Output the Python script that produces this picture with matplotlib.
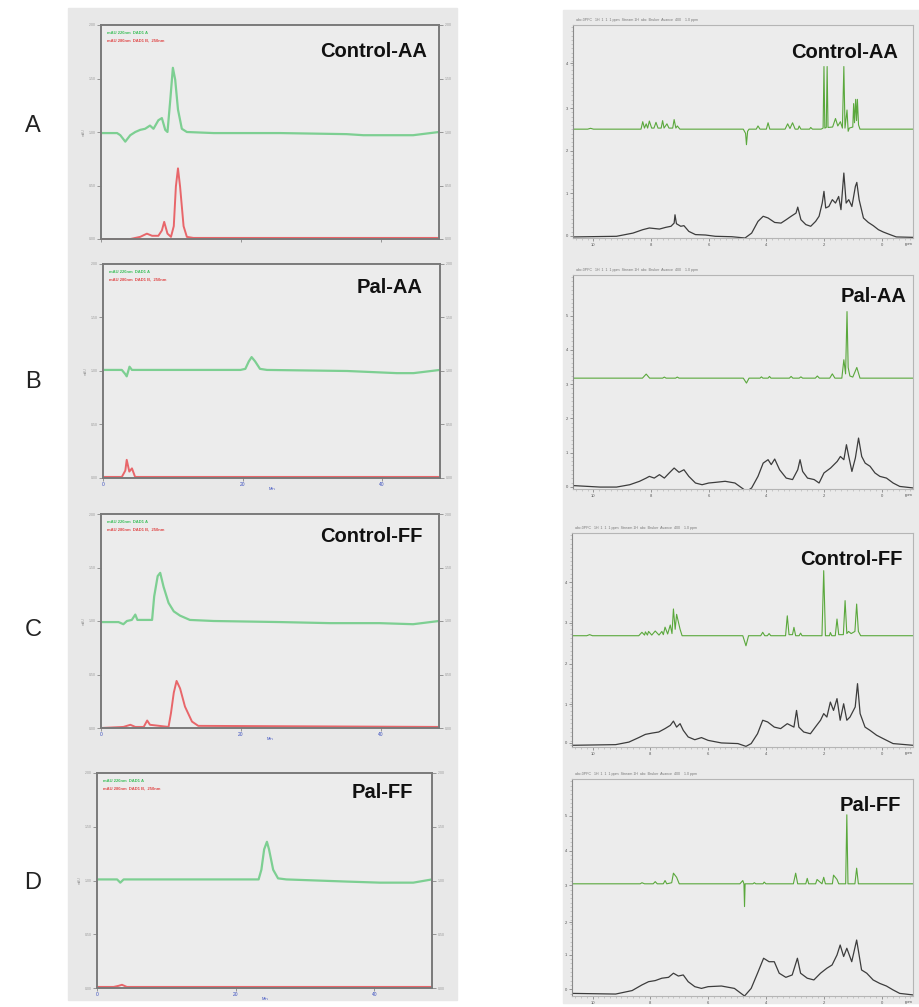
import matplotlib
matplotlib.use("Agg")
import matplotlib.pyplot as plt
from matplotlib.patches import Rectangle

plt.rcParams['font.family'] = ['Liberation Sans', 'DejaVu Sans']

# ---- left column: chromatograms (time in min, detector signal) ----
row_letters = ['A', 'B', 'C', 'D']
sample_names = ['Control-AA', 'Pal-AA', 'Control-FF', 'Pal-FF']

lc_green_t = [
    [0, 2.3, 2.76, 3.47, 4.18, 4.9, 5.6, 6.3, 7.0, 7.5, 8.2, 8.7, 9.18, 9.5, 9.9, 10.27, 10.6, 11.0, 11.55, 12.27, 16.1, 25.6, 35.1, 37.5, 42.2, 44.6, 48.3],
    [0, 2.7, 3.2, 3.4, 3.8, 4.15, 19.7, 20.4, 20.9, 21.3, 21.8, 22.5, 23.5, 35, 42.1, 44.5, 48.3],
    [0, 2.5, 3.2, 3.7, 4.4, 4.9, 5.2, 7.3, 7.6, 8.1, 8.46, 8.94, 9.65, 10.4, 11.3, 12.7, 16.1, 25.6, 32.7, 39.8, 44.6, 48.3],
    [0, 2.9, 3.36, 3.84, 23.3, 23.7, 24.1, 24.5, 24.8, 25.4, 26.1, 27.3, 36, 40.8, 45.6, 48.3],
]
lc_green_v = [
    [0.99, 0.99, 0.97, 0.91, 0.97, 1.0, 1.02, 1.03, 1.06, 1.03, 1.11, 1.13, 1.02, 1.0, 1.30, 1.60, 1.49, 1.21, 1.03, 1.0, 0.99, 0.99, 0.98, 0.97, 0.97, 0.97, 1.0],
    [1.01, 1.01, 0.97, 0.95, 1.04, 1.01, 1.01, 1.02, 1.09, 1.13, 1.09, 1.02, 1.01, 1.0, 0.98, 0.98, 1.01],
    [0.99, 0.99, 0.97, 1.0, 1.01, 1.06, 1.01, 1.01, 1.23, 1.42, 1.45, 1.32, 1.17, 1.09, 1.05, 1.01, 1.0, 0.99, 0.98, 0.98, 0.97, 1.0],
    [1.01, 1.01, 0.98, 1.01, 1.01, 1.1, 1.29, 1.36, 1.29, 1.1, 1.02, 1.01, 0.99, 0.98, 0.98, 1.01],
]
lc_red_t = [
    [0, 4.2, 5.6, 6.56, 7.3, 8.2, 8.7, 9.03, 9.5, 10.0, 10.4, 10.7, 11.0, 11.3, 11.8, 12.27, 13.2, 48.3],
    [0, 2.7, 3.2, 3.4, 3.77, 4.15, 4.6, 48.3],
    [0, 3.2, 4.2, 4.9, 6.1, 6.6, 7.0, 9.65, 10.0, 10.4, 10.8, 11.3, 12.0, 13.0, 13.9, 48.3],
    [0, 2.4, 3.1, 3.6, 4.3, 48.3],
]
lc_red_v = [
    [0.0, 0.0, 0.02, 0.05, 0.03, 0.03, 0.08, 0.16, 0.05, 0.02, 0.12, 0.49, 0.66, 0.49, 0.12, 0.02, 0.01, 0.01],
    [0.01, 0.01, 0.07, 0.17, 0.06, 0.09, 0.01, 0.01],
    [0.0, 0.01, 0.03, 0.01, 0.01, 0.07, 0.03, 0.01, 0.14, 0.33, 0.44, 0.37, 0.2, 0.06, 0.02, 0.01],
    [0.01, 0.01, 0.02, 0.03, 0.01, 0.01],
]
lc_yticks = [0, 0.5, 1.0, 1.5, 2.0]
lc_xticks = [0, 20, 40]

# ---- right column: 1H spectra (ppm, % of panel height) ----
nmr_black_ppm = [
    [10.71, 9.2, 8.63, 8.29, 8.06, 7.71, 7.49, 7.31, 7.2, 7.17, 7.12, 6.97, 6.86, 6.69, 6.46, 6.11, 5.77, 5.2, 4.74, 4.51, 4.29, 4.11, 3.94, 3.71, 3.49, 3.31, 3.14, 2.97, 2.91, 2.8, 2.63, 2.46, 2.29, 2.17, 2.06, 2.0, 1.94, 1.83, 1.71, 1.6, 1.49, 1.41, 1.31, 1.23, 1.14, 1.03, 0.91, 0.86, 0.78, 0.63, 0.46, 0.29, 0.11, -0.06, -0.29, -0.51, -1.09],
    [10.71, 9.77, 9.2, 8.74, 8.4, 8.17, 8.06, 7.89, 7.71, 7.54, 7.37, 7.2, 7.03, 6.86, 6.69, 6.46, 6.23, 6.0, 5.77, 5.43, 5.09, 4.8, 4.69, 4.51, 4.29, 4.11, 3.94, 3.83, 3.71, 3.54, 3.31, 3.09, 2.91, 2.83, 2.74, 2.57, 2.34, 2.17, 2.0, 1.77, 1.54, 1.43, 1.31, 1.22, 1.14, 1.03, 0.91, 0.8, 0.69, 0.57, 0.4, 0.23, 0.06, -0.17, -0.4, -0.63, -1.09],
    [10.71, 9.2, 8.74, 8.4, 8.17, 7.94, 7.71, 7.49, 7.31, 7.2, 7.09, 6.97, 6.86, 6.69, 6.46, 6.23, 6.0, 5.54, 4.97, 4.69, 4.51, 4.29, 4.11, 3.94, 3.71, 3.49, 3.26, 3.03, 2.94, 2.86, 2.69, 2.46, 2.29, 2.11, 2.0, 1.89, 1.77, 1.66, 1.54, 1.43, 1.31, 1.2, 1.09, 0.91, 0.83, 0.74, 0.57, 0.4, 0.17, -0.06, -0.4, -1.09],
    [10.71, 9.2, 8.63, 8.29, 8.06, 7.83, 7.6, 7.37, 7.2, 7.03, 6.86, 6.69, 6.46, 6.23, 6.0, 5.54, 5.09, 4.74, 4.51, 4.29, 4.08, 3.89, 3.71, 3.54, 3.31, 3.09, 2.91, 2.8, 2.57, 2.34, 2.11, 1.89, 1.71, 1.54, 1.43, 1.31, 1.2, 1.03, 0.86, 0.69, 0.51, 0.29, 0.06, -0.17, -0.4, -0.63, -1.09],
]
nmr_black_val = [
    [0.5, 0.8, 2.3, 3.9, 4.7, 4.2, 5.0, 5.5, 7.0, 10.9, 6.7, 5.5, 5.8, 3.1, 1.6, 1.4, 0.8, 0.6, 0.0, 2.3, 7.8, 10.2, 9.4, 7.3, 7.0, 8.6, 10.2, 11.7, 14.5, 8.6, 6.3, 5.5, 7.8, 10.2, 16.4, 21.9, 14.1, 14.8, 18.0, 16.4, 19.5, 13.3, 30.5, 16.4, 18.0, 14.8, 24.2, 26.1, 18.0, 9.4, 7.3, 5.8, 3.9, 2.8, 1.6, 0.5, 0.3],
    [1.6, 0.9, 0.9, 2.0, 3.6, 5.1, 5.9, 5.1, 6.7, 5.1, 7.5, 9.8, 7.8, 9.0, 5.9, 2.8, 2.0, 2.8, 3.1, 3.6, 2.8, 0.0, -1.2, 0.5, 5.9, 12.1, 13.7, 11.4, 14.0, 9.0, 5.1, 4.4, 9.0, 13.7, 8.2, 5.1, 4.4, 2.8, 7.5, 9.8, 12.9, 15.2, 13.7, 20.7, 15.2, 8.2, 14.5, 23.8, 15.2, 12.1, 10.6, 7.5, 5.9, 5.1, 2.8, 1.2, 0.5],
    [0.8, 1.1, 2.3, 4.4, 5.9, 6.5, 7.0, 8.6, 10.1, 12.1, 9.3, 10.9, 7.8, 4.7, 3.4, 4.4, 3.1, 1.9, 1.6, 0.3, 1.6, 6.2, 12.5, 11.7, 9.3, 8.6, 10.9, 9.3, 17.1, 9.3, 7.0, 6.2, 9.3, 12.5, 15.6, 14.0, 21.0, 17.1, 22.6, 12.5, 20.2, 12.5, 14.0, 18.7, 29.6, 15.6, 9.3, 7.8, 5.5, 3.9, 1.6, 0.8],
    [1.2, 0.9, 2.5, 5.1, 6.6, 7.1, 8.2, 8.6, 10.5, 9.2, 9.7, 6.6, 4.3, 3.5, 4.3, 4.6, 3.5, 0.0, 3.5, 10.5, 17.4, 15.8, 15.8, 10.5, 8.6, 9.7, 17.4, 10.5, 8.2, 7.4, 10.5, 12.8, 14.3, 18.9, 23.5, 18.2, 22.0, 15.8, 25.8, 12.0, 10.5, 7.4, 5.8, 4.6, 2.8, 1.2, 0.5],
]
nmr_green_ppm = [
    [10.71, 10.2, 10.1, 10.0, 8.35, 8.29, 8.23, 8.17, 8.12, 8.06, 7.98, 7.9, 7.83, 7.76, 7.65, 7.6, 7.55, 7.45, 7.38, 7.25, 7.2, 7.14, 7.09, 7.0, 4.8, 4.72, 4.69, 4.65, 4.6, 4.35, 4.29, 4.22, 4.0, 3.94, 3.88, 3.35, 3.26, 3.18, 3.09, 3.0, 2.9, 2.86, 2.8, 2.5, 2.46, 2.4, 2.1, 2.03, 2.0, 1.97, 1.92, 1.89, 1.86, 1.7, 1.6, 1.52, 1.43, 1.36, 1.31, 1.27, 1.2, 1.16, 1.12, 1.0, 0.97, 0.94, 0.9, 0.87, 0.84, 0.8, 0.75, -1.1],
    [10.71, 8.3, 8.17, 8.05, 7.6, 7.54, 7.48, 7.15, 7.09, 7.03, 4.8, 4.69, 4.6, 4.22, 4.17, 4.12, 3.94, 3.89, 3.84, 3.2, 3.14, 3.08, 2.86, 2.8, 2.74, 2.3, 2.23, 2.16, 1.8, 1.71, 1.62, 1.38, 1.31, 1.25, 1.2, 1.16, 1.1, 1.0, 0.86, 0.75, -1.1],
    [10.71, 10.2, 10.1, 10.0, 8.4, 8.29, 8.2, 8.17, 8.1, 8.06, 7.95, 7.83, 7.7, 7.6, 7.55, 7.49, 7.4, 7.31, 7.25, 7.2, 7.14, 7.09, 6.97, 6.9, 4.8, 4.69, 4.6, 4.18, 4.11, 4.04, 3.95, 3.89, 3.83, 3.32, 3.26, 3.2, 3.08, 3.03, 2.97, 2.85, 2.8, 2.75, 2.06, 2.0, 1.94, 1.8, 1.77, 1.72, 1.6, 1.54, 1.48, 1.32, 1.26, 1.2, 1.14, 1.05, 0.92, 0.86, 0.8, 0.72, -1.1],
    [10.71, 8.35, 8.29, 8.2, 7.9, 7.83, 7.76, 7.55, 7.49, 7.43, 7.26, 7.2, 7.09, 7.0, 4.9, 4.8, 4.76, 4.74, 4.72, 4.65, 4.45, 4.4, 4.35, 4.1, 4.06, 4.0, 3.05, 2.97, 2.9, 2.62, 2.57, 2.52, 2.28, 2.23, 2.06, 2.0, 1.94, 1.7, 1.66, 1.54, 1.48, 1.24, 1.2, 1.16, 0.92, 0.86, 0.8, -1.1],
]
nmr_green_val = [
    [0, 0, 0.4, 0, 0, 3.5, 0.5, 2.5, 0.5, 3.8, 0.5, 0.5, 3.2, 0.5, 0.5, 4.0, 0.5, 2.5, 0.5, 0.5, 4.5, 0.5, 1.5, 0, 0, -2.0, -7.3, -1.0, 0, 0, 1.5, 0, 0, 3.0, 0, 0, 2.5, 0.3, 3.0, 0, 0, 1.5, 0, 0, 0.8, 0, 0, 0.5, 29.4, 0.5, 0.8, 29.4, 0.8, 1.0, 5.0, 1.5, 3.5, 0.5, 29.4, 0.5, 9.0, -1.0, 0.5, 1.0, 12.0, 3.0, 14.0, 4.0, 14.0, 2.0, 0, 0],
    [0, 0, 1.9, 0, 0, 0.5, 0, 0, 0.5, 0, 0, -2.3, 0, 0, 0.6, 0, 0, 0.8, 0, 0, 0.8, 0, 0, 0.6, 0, 0, 1.0, 0, 0, 2.0, 0, 0, 8.6, 2.0, 31.1, 5.0, 1.0, 0.5, 5.0, 0, 0],
    [0, 0, 0.5, 0, 0, 1.6, 0.3, 1.8, 0.3, 2.0, 0.3, 2.2, 0.3, 2.0, 0.5, 4.0, 0.8, 5.0, 1.0, 12.5, 3.0, 10.0, 3.0, 0, 0, -4.7, 0, 0, 1.6, 0, 0, 1.0, 0, 0, 9.3, 0.5, 0.5, 3.9, 0, 0, 1.2, 0, 0, 30.4, 0, 0, 1.5, 0, 0, 7.8, 0.5, 0.5, 16.4, 1.0, 2.0, 1.0, 2.0, 14.8, 2.0, 0, 0],
    [0, 0, 0.5, 0, 0, 1.0, 0, 0, 1.5, 0, 0.5, 4.9, 3.0, 0, 0, 1.5, 0, -10.5, 0, 0, 0, 0.5, 0, 0, 0.8, 0, 0, 4.9, 0, 0, 2.5, 0, 0, 2.0, 0, 3.0, 0, 0, 4.0, 2.0, 0, 0, 31.8, 0, 0, 7.2, 0, 0],
]
nmr_green_base = [51.1, 51.8, 52.0, 51.7]
nmr_yticks = [[1, 21, 41, 61, 82], [1, 17, 33, 49, 65, 81], [2, 20, 39, 58, 77], [3, 19, 34, 51, 67, 83]]
nmr_xticks = [10, 8, 6, 4, 2, 0]

# ---- layout (pixel boxes: left, top, right, bottom) ----
W, H = 919, 1007
lc_boxes = [(101, 25, 439, 239), (103, 264, 440, 478), (101, 514, 439, 728), (97, 773, 432, 988)]
nmr_boxes = [(573, 25, 913, 238), (573, 275, 913, 489), (572, 533, 913, 747), (572, 779, 913, 996)]
letter_y = [126, 382, 630, 883]
lc_label_pos = [(0.965, 0.874), (0.947, 0.89), (0.95, 0.893), (0.943, 0.907)]
nmr_label_pos = [(0.957, 0.873), (0.98, 0.9), (0.97, 0.874), (0.965, 0.88)]

BG = '#ececec'
LC_GREEN = '#7dcf92'
LC_RED = '#e8666a'
NMR_GREEN = '#5aa83c'
NMR_BLACK = '#3c3c3c'


def to_rect(box):
    l, t, r, b = box
    return [l / W, 1 - b / H, (r - l) / W, (b - t) / H]


fig = plt.figure(figsize=(W / 100, H / 100), dpi=100)
fig.patches.append(Rectangle((68 / W, 1 - 1000 / H), (457 - 68) / W, 992 / H,
                             transform=fig.transFigure, color='#e8e8e8', zorder=-5))
fig.patches.append(Rectangle((563 / W, 1 - 1003 / H), (919 - 563) / W, 993 / H,
                             transform=fig.transFigure, color='#eaeaea', zorder=-5))

for i in range(4):
    fig.text(33 / W, 1 - letter_y[i] / H, row_letters[i], fontsize=17,
             ha='center', va='center', color='#222222')

    # chromatogram
    ax = fig.add_axes(to_rect(lc_boxes[i]))
    ax.set_facecolor(BG)
    ax.plot(lc_green_t[i], lc_green_v[i], color=LC_GREEN, lw=1.6)
    ax.plot(lc_red_t[i], lc_red_v[i], color=LC_RED, lw=1.4, clip_on=False)
    ax.set_xlim(0, 48.3)
    ax.set_ylim(0, 2)
    ax.set_yticks(lc_yticks)
    ax.set_yticklabels(['%.2f' % v for v in lc_yticks], fontsize=2.5, color='#999999')
    ax.tick_params(axis='y', which='both', direction='out', length=3, width=0.6,
                   color='#888888', right=True, labelright=True, pad=1)
    ax.set_xticks(lc_xticks)
    if i == 0:
        ax.set_xticklabels([])
    else:
        ax.set_xticklabels([str(v) for v in lc_xticks], fontsize=3.5, color='#3a4fc0')
        ax.set_xlabel('Min', fontsize=3, color='#3a4fc0', labelpad=0)
    ax.tick_params(axis='x', direction='out', length=2, width=0.6, color='#888888', pad=1)
    for s in ax.spines.values():
        s.set_color('#7a7a7a')
        s.set_linewidth(1.4)
    ax.set_ylabel('mAU', fontsize=2.5, color='#999999', labelpad=2)
    ax.text(0.018, 0.962, 'mAU 220nm  DAD1 A', transform=ax.transAxes, fontsize=3,
            color='#3cbf5a', fontweight='bold', va='center')
    ax.text(0.018, 0.93, 'mAU 280nm  DAD1 B,  250nm', transform=ax.transAxes, fontsize=3,
            color='#e04848', fontweight='bold', va='center')
    lx, ly = lc_label_pos[i]
    ax.text(lx, ly, sample_names[i], transform=ax.transAxes, fontsize=14.5,
            fontweight='bold', ha='right', va='center', color='#111111')

    # 1H spectrum
    bx = fig.add_axes(to_rect(nmr_boxes[i]))
    bx.set_facecolor(BG)
    bx.plot(nmr_black_ppm[i], nmr_black_val[i], color=NMR_BLACK, lw=0.9)
    gv = [nmr_green_base[i] + v for v in nmr_green_val[i]]
    bx.plot(nmr_green_ppm[i], gv, color=NMR_GREEN, lw=0.8)
    bx.set_xlim(10.71, -1.09)
    bx.set_ylim(0, 100)
    bx.set_xticks(nmr_xticks)
    bx.set_xticklabels([str(v) for v in nmr_xticks], fontsize=3, color='#555555')
    bx.set_xticks([10.6 - 0.2 * k for k in range(59)], minor=True)
    bx.set_yticks(nmr_yticks[i])
    bx.set_yticklabels(['%d' % k for k in range(len(nmr_yticks[i]))], fontsize=3, color='#555555')
    bx.set_yticks(range(1, 100, 2), minor=True)
    bx.tick_params(axis='both', which='major', direction='out', length=2.5, width=0.6,
                   color='#888888', pad=1)
    bx.tick_params(axis='both', which='minor', direction='out', length=1.2, width=0.4,
                   color='#aaaaaa')
    for s in bx.spines.values():
        s.set_color('#b5b5b5')
        s.set_linewidth(0.8)
    bx.spines['left'].set_color('#8a8a8a')
    bx.text(0.01, 1.012, 'abc.0PPC   1H  1  1  1 ppm  Stream 1H  abc  Bruker  Avance  400    1.0 ppm',
            transform=bx.transAxes, fontsize=2.6, color='#777777', va='bottom')
    bx.text(1.0, -0.02, 'ppm', transform=bx.transAxes, fontsize=3, color='#555555',
            ha='right', va='top')
    nx, ny = nmr_label_pos[i]
    bx.text(nx, ny, sample_names[i], transform=bx.transAxes, fontsize=14.5,
            fontweight='bold', ha='right', va='center', color='#111111')

fig.savefig('out.png', dpi=100)
